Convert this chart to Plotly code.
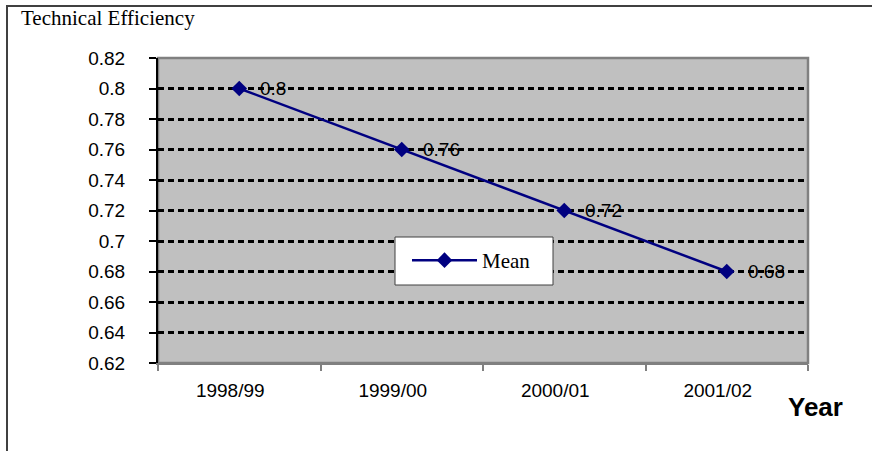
import plotly.graph_objects as go

years = ["1998/99", "1999/00", "2000/01", "2001/02"]
mean_te = [0.80, 0.76, 0.72, 0.68]
label_texts = ["0.8", "0.76", "0.72", "0.68"]
series_name = "Mean"
y_title = "Technical Efficiency"
x_title = "Year"

W, H = 872, 451
L, R, T, B = 158, 64, 58, 88
pw, ph = W - L - R, H - T - B

def px(x):
    return (x - L) / pw

def py(y):
    return (H - B - y) / ph

NAVY = "#000080"

fig = go.Figure()
fig.add_trace(go.Scatter(
    x=years, y=mean_te, mode="lines+markers", name=series_name,
    line=dict(color=NAVY, width=2.5),
    marker=dict(symbol="diamond", size=12, color=NAVY),
))

annotations = []
for xv, yv, t in zip(years, mean_te, label_texts):
    annotations.append(dict(
        x=xv, y=yv, xref="x", yref="y", text=t, showarrow=False,
        xanchor="left", yanchor="middle", xshift=19,
        font=dict(family="Liberation Sans, Arial", size=19, color="black"),
    ))

annotations.append(dict(
    x=px(19), y=py(18), xref="paper", yref="paper", text=y_title,
    showarrow=False, xanchor="left", yanchor="middle",
    font=dict(family="Liberation Serif, Times New Roman", size=21, color="black"),
))
annotations.append(dict(
    x=px(815), y=py(407), xref="paper", yref="paper", text="<b>" + x_title + "</b>",
    showarrow=False, xanchor="center", yanchor="middle",
    font=dict(family="Liberation Sans, Arial", size=26, color="black"),
))

shapes = [
    # outer frame (partially off-page)
    dict(type="rect", xref="paper", yref="paper",
         x0=px(7), x1=px(900), y0=py(480), y1=py(6),
         line=dict(color="#404040", width=2), fillcolor="rgba(0,0,0,0)", layer="below"),
    # plot area border (gray)
    dict(type="rect", xref="paper", yref="paper",
         x0=0, x1=1, y0=0, y1=1,
         line=dict(color="#808080", width=2.5), fillcolor="rgba(0,0,0,0)", layer="below"),
    # legend box
    dict(type="rect", xref="paper", yref="paper",
         x0=px(395), x1=px(553), y0=py(285), y1=py(237),
         line=dict(color="#404040", width=1), fillcolor="white", layer="above"),
]

fig.update_layout(
    width=W, height=H,
    margin=dict(l=L, r=R, t=T, b=B, pad=0),
    paper_bgcolor="white", plot_bgcolor="#C0C0C0",
    showlegend=True,
    legend=dict(
        x=px(407), y=py(240), xanchor="left", yanchor="top",
        bgcolor="rgba(0,0,0,0)", borderwidth=0,
        font=dict(family="Liberation Serif, Times New Roman", size=21, color="black"),
        itemwidth=65,
    ),
    annotations=annotations,
    shapes=shapes,
    xaxis=dict(
        type="category", range=[-0.5, 3.5],
        showline=True, linecolor="#808080", linewidth=2,
        ticks="outside", tickson="boundaries", ticklen=6, tickcolor="#808080", tickwidth=1.5,
        showgrid=False, zeroline=False,
        tickfont=dict(family="Liberation Sans, Arial", size=19, color="black"),
        ticklabelstandoff=9, ticklabelshift=-9,
    ),
    yaxis=dict(
        range=[0.62, 0.82], dtick=0.02, tick0=0.62,
        showline=True, linecolor="black", linewidth=2,
        ticks="outside", ticklen=7, tickcolor="black", tickwidth=1.5,
        showgrid=True, gridcolor="black", gridwidth=2.5, griddash="6px,4px",
        zeroline=False,
        tickfont=dict(family="Liberation Sans, Arial", size=19, color="black"),
        ticklabelstandoff=20,
    ),
)

fig.write_html(
    "out.html",
    config={"displayModeBar": False},
    post_script="document.body.style.margin='0';document.body.style.overflow='hidden';",
)
